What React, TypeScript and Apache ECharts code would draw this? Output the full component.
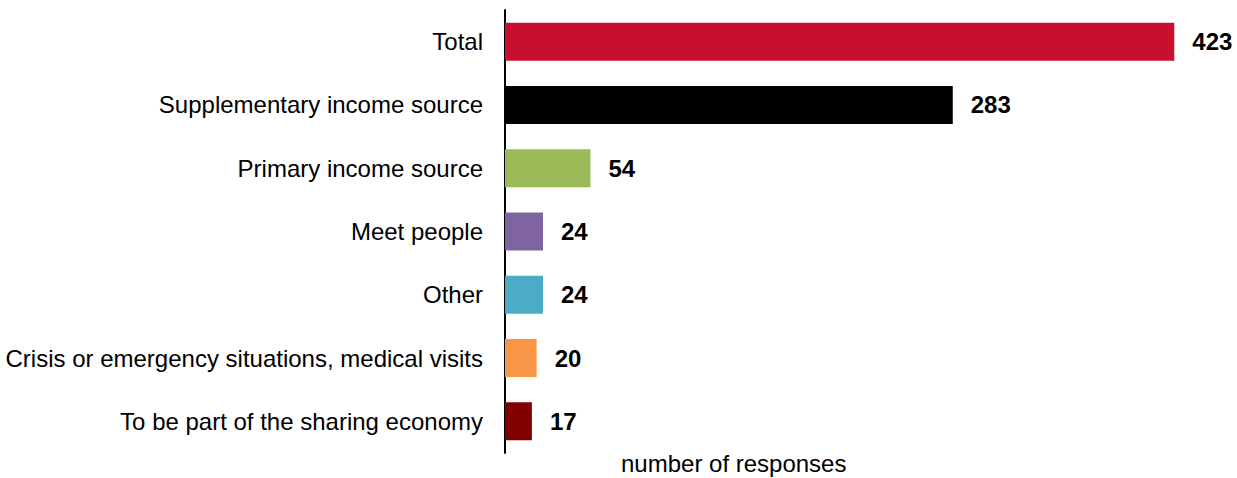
import React, { useEffect, useRef } from "react";
import * as echarts from "echarts";

const categories = [
  "Total",
  "Supplementary income source",
  "Primary income source",
  "Meet people",
  "Other",
  "Crisis or emergency situations, medical visits",
  "To be part of the sharing economy",
];
const values = [423, 283, 54, 24, 24, 20, 17];
const colors = ["#C8102E", "#000000", "#9BBB59", "#8064A2", "#4BACC6", "#F79646", "#800000"];
const axisTitle = "number of responses";

export default function App() {
  const ref = useRef<HTMLDivElement>(null);
  useEffect(() => {
    document.body.style.margin = "0";
    const chart = echarts.init(ref.current!, null, { renderer: "svg" });
    chart.setOption({
      animation: false,
      textStyle: { fontFamily: "Liberation Sans, Arial, sans-serif" },
      grid: { left: 505, right: 20, top: 10, bottom: 25, containLabel: false },
      xAxis: {
        type: "value",
        min: 0,
        max: 450,
        show: false,
      },
      yAxis: {
        type: "category",
        data: categories,
        inverse: true,
        axisLine: { show: true, lineStyle: { color: "#000", width: 2 } },
        axisTick: { show: false },
        axisLabel: {
          color: "#000",
          fontSize: 24,
          margin: 22,
          fontFamily: "Liberation Sans, Arial, sans-serif",
        },
        splitLine: { show: false },
      },
      graphic: [
        {
          type: "text",
          left: 621,
          top: 451,
          style: {
            text: axisTitle,
            fill: "#000",
            font: "24px 'Liberation Sans', Arial, sans-serif",
          },
        },
      ],
      series: [
        {
          type: "bar",
          data: values.map((v, i) => ({ value: v, itemStyle: { color: colors[i] } })),
          barWidth: 38,
          label: {
            show: true,
            position: "right",
            distance: 18,
            color: "#000",
            fontWeight: "bold",
            fontSize: 24,
            fontFamily: "Liberation Sans, Arial, sans-serif",
          },
        },
      ],
    });
    return () => chart.dispose();
  }, []);
  return <div ref={ref} style={{ width: 1237, height: 478 }} />;
}
